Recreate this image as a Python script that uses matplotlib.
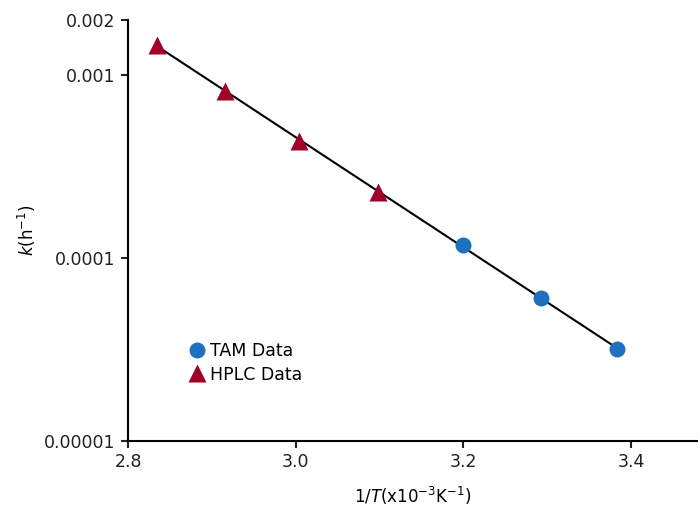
import numpy as np
import matplotlib
matplotlib.use('Agg')
import matplotlib.pyplot as plt
from matplotlib.ticker import FixedLocator, FixedFormatter, NullLocator

plt.rcParams['font.family'] = ['DejaVu Sans']
plt.rcParams['mathtext.fontset'] = 'dejavusans'

# data
tam_x = [3.200, 3.293, 3.383]
tam_k = [1.18e-4, 6.05e-5, 3.19e-5]
hplc_x = [2.834, 2.916, 3.004, 3.098]
hplc_k = [1.46e-3, 8.2e-4, 4.35e-4, 2.3e-4]

yticks = [0.00001, 0.0001, 0.001, 0.002]
ylabels = ['0.00001', '0.0001', '0.001', '0.002']
xticks = [2.8, 3.0, 3.2, 3.4]

all_x = np.array(hplc_x + tam_x)
all_k = np.array(hplc_k + tam_k)
slope, icpt = np.polyfit(all_x, np.log10(all_k), 1)
fit_x = np.array([all_x.min(), all_x.max()])
fit_k = 10 ** (slope * fit_x + icpt)

fig = plt.figure(figsize=(6.98, 5.08), dpi=100)
ax = fig.add_axes([0.1834, 0.1319, 0.8166, 0.8287])

ax.plot(fit_x, fit_k, color='black', lw=1.5, zorder=1)
ax.plot(tam_x, tam_k, 'o', color='#1f70be', ms=11.5, mec='none', label='TAM Data', zorder=2)
ax.plot(hplc_x, hplc_k, '^', color='#a1002b', ms=13, mec='none', label='HPLC Data', zorder=2)

ax.set_yscale('log')
ax.set_ylim(0.00001, 0.002)
ax.set_xlim(2.8, 3.48)
ax.yaxis.set_major_locator(FixedLocator(yticks))
ax.yaxis.set_major_formatter(FixedFormatter(ylabels))
ax.yaxis.set_minor_locator(NullLocator())
ax.set_xticks(xticks)
ax.set_xticklabels(['%.1f' % v for v in xticks])

for s in ['top', 'right']:
    ax.spines[s].set_visible(False)
for s in ['left', 'bottom']:
    ax.spines[s].set_linewidth(1.5)
ax.tick_params(direction='out', length=5, width=1.5, labelsize=12.5, colors='#222222', pad=4)

ax.set_ylabel(r'$k$(h$^{-1}$)', fontsize=12, labelpad=4)
ax.set_xlabel(r'1/$T$(x10$^{-3}$K$^{-1}$)', fontsize=12, labelpad=10)

ax.legend(loc='upper left', bbox_to_anchor=(0.085, 0.255), frameon=False,
          fontsize=12.5, handletextpad=0.05, labelspacing=0.3, borderpad=0,
          handlelength=1.4)

fig.savefig('out.png', dpi=100)
